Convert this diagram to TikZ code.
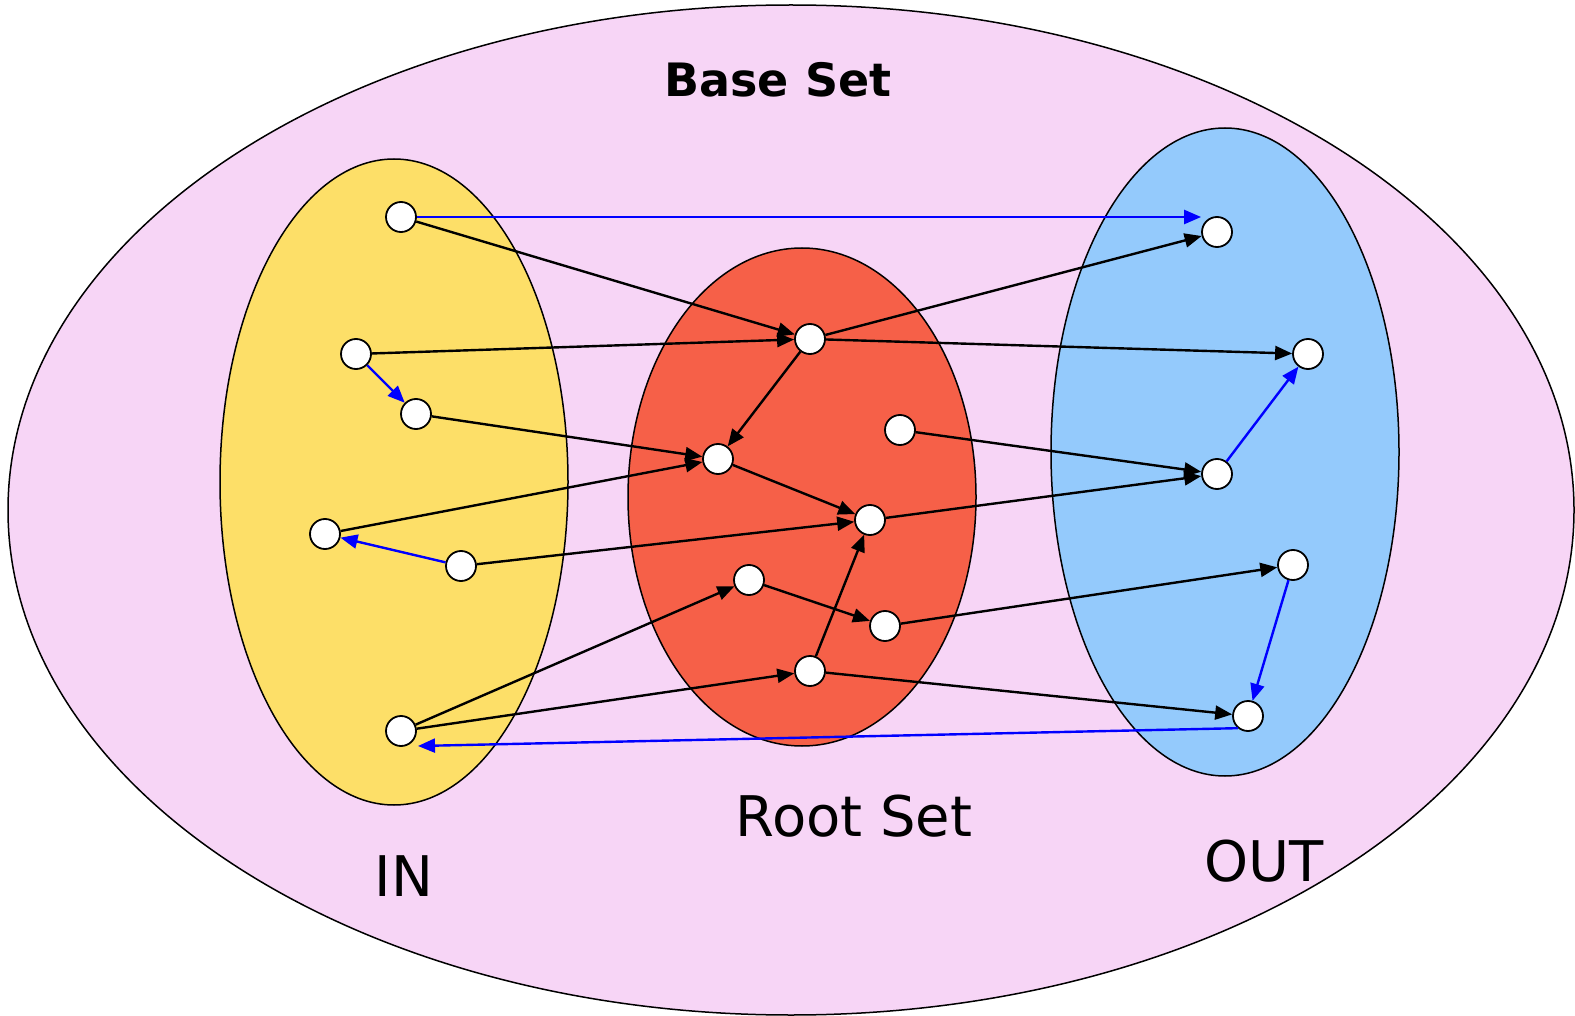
\documentclass[tikz,border=0pt]{standalone}
\usepackage{fontspec}
\setmainfont{DejaVu Sans}
\usetikzlibrary{arrows.meta}

\definecolor{basepink}{RGB}{247,213,246}
\definecolor{inyellow}{RGB}{253,223,104}
\definecolor{rootred}{RGB}{246,96,72}
\definecolor{outblue}{RGB}{148,202,252}

\begin{document}
\begin{tikzpicture}[x=1pt, y=-1pt,
  vtx/.style={circle, draw=black, line width=1.8pt, fill=white, inner sep=0pt, minimum size=30pt},
  setline/.style={draw=black, line width=1.5pt},
  ar/.style={-{Triangle[length=17pt, width=14pt]}, line width=2.4pt},
  bar/.style={ar, blue},
  setlbl/.style={font=\fontsize{56}{60}\selectfont, inner sep=0pt}
]
\useasboundingbox (0,0) rectangle (1575,1016);
% sets
\draw[setline, fill=basepink] (791,510) ellipse [x radius=783, y radius=505];
\draw[setline, fill=inyellow] (394,482) ellipse [x radius=174, y radius=323];
\draw[setline, fill=rootred] (802,497) ellipse [x radius=174, y radius=249];
\draw[setline, fill=outblue] (1225,452) ellipse [x radius=174, y radius=324];
\node[setlbl, font=\fontsize{46}{50}\selectfont\bfseries] (base) at (778,80) {Base Set};
\node[setlbl] (rootlbl) at (854,816) {Root Set};
\node[setlbl] (inlbl) at (404,876) {IN};
\node[setlbl] (outlbl) at (1264,861) {OUT};
% IN pages
\node[vtx] (in1) at (401,217) {};
\node[vtx] (in2) at (356,354) {};
\node[vtx] (in3) at (416,414) {};
\node[vtx] (in4) at (325,534) {};
\node[vtx] (in5) at (461,566) {};
\node[vtx] (in6) at (401,731) {};
% root pages
\node[vtx] (rt1) at (810,339) {};
\node[vtx] (rt2) at (718,459) {};
\node[vtx] (rt3) at (900,430) {};
\node[vtx] (rt4) at (870,520) {};
\node[vtx] (rt5) at (749,580) {};
\node[vtx] (rt6) at (885,626) {};
\node[vtx] (rt7) at (810,671) {};
% OUT pages
\node[vtx] (out1) at (1217,232) {};
\node[vtx] (out2) at (1308,354) {};
\node[vtx] (out3) at (1217,474) {};
\node[vtx] (out4) at (1293,565) {};
\node[vtx] (out5) at (1248,716) {};
\coordinate (back) at (418,746);
% links
\draw[bar] (in1) -- (in1 -| out1.west);
\draw[ar] (in1) -- (rt1);
\draw[ar] (rt1) -- (out1);
\draw[ar] (in2) -- (rt1);
\draw[ar] (rt1) -- (out2);
\draw[bar] (in2) -- (in3);
\draw[ar] (rt1) -- (rt2);
\draw[ar] (in3) -- (rt2);
\draw[ar] (in4) -- (rt2);
\draw[bar] (in5) -- (in4);
\draw[ar] (rt2) -- (rt4);
\draw[ar] (in5) -- (rt4);
\draw[ar] (rt3) -- (out3);
\draw[ar] (rt4) -- (out3);
\draw[bar] (out3) -- (out2);
\draw[ar] (in6) -- (rt5);
\draw[ar] (in6) -- (rt7);
\draw[ar] (rt5) -- (rt6);
\draw[ar] (rt6) -- (out4);
\draw[ar] (rt7) -- (rt4);
\draw[ar] (rt7) -- (out5);
\draw[bar] (out4) -- (out5);
\draw[bar] (out5.-130) -- (back);
\end{tikzpicture}
\end{document}
